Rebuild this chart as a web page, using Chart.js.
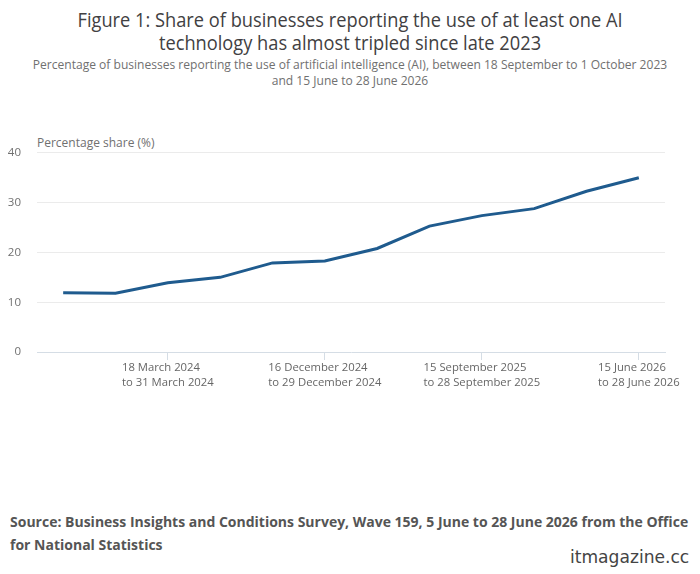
<!DOCTYPE html>
<html>
<head>
<meta charset="utf-8">
<script src="https://cdn.jsdelivr.net/npm/chart.js@4/dist/chart.umd.min.js"></script>
<style>
  html, body { margin: 0; padding: 0; background: #fff; }
  body { width: 700px; height: 574px; position: relative; overflow: hidden; font-family: "Open Sans", sans-serif; }
  #title { position: absolute; top: 8px; left: 0; width: 700px; text-align: center; font-size: 20.5px; line-height: 23px; color: #414042; transform: scaleX(0.89); transform-origin: 350px 0; }
  #subtitle { position: absolute; top: 57px; left: 0; width: 700px; text-align: center; font-size: 12.3px; line-height: 16px; color: #707070; transform: scaleX(0.98); transform-origin: 350px 0; }
  #ytitle { position: absolute; top: 134px; left: 37px; font-size: 12px; color: #707070; }
  #wrap { position: absolute; top: 130px; left: 0; width: 700px; height: 270px; }
  #source { position: absolute; top: 510px; left: 10px; width: 690px; font-size: 14px; line-height: 23px; font-weight: bold; color: #555; }
  #wm { position: absolute; top: 546px; left: 570px; font-family: "DejaVu Sans", sans-serif; font-size: 18px; color: #444; transform: scaleX(0.95); transform-origin: 0 0; white-space: nowrap; }
</style>
</head>
<body>
<div id="title">Figure 1: Share of businesses reporting the use of at least one AI<br>technology has almost tripled since late 2023</div>
<div id="subtitle">Percentage of businesses reporting the use of artificial intelligence (AI), between 18 September to 1 October 2023<br>and 15 June to 28 June 2026</div>
<div id="ytitle">Percentage share (%)</div>
<div id="wrap"><canvas id="c"></canvas></div>
<div id="source">Source: Business Insights and Conditions Survey, Wave 159, 5 June to 28 June 2026 from the Office<br>for National Statistics</div>
<div id="wm">itmagazine.cc</div>
<script>
// Survey periods (start line, end line)
const periodStarts = ["18 September 2023", "11 December 2023", "18 March 2024", "17 June 2024", "16 September 2024", "16 December 2024", "17 March 2025", "16 June 2025", "15 September 2025", "15 December 2025", "16 March 2026", "15 June 2026"];
const periodEnds = ["to 1 October 2023", "to 24 December 2023", "to 31 March 2024", "to 30 June 2024", "to 29 September 2024", "to 29 December 2024", "to 30 March 2025", "to 29 June 2025", "to 28 September 2025", "to 28 December 2025", "to 29 March 2026", "to 28 June 2026"];
const shownLabelIndex = [2, 5, 8, 11];
const aiShare = [11.9, 11.8, 13.9, 15.0, 17.9, 18.3, 20.8, 25.3, 27.4, 28.8, 32.3, 35.0];
const yTicks = [0, 10, 20, 30, 40];

const categories = periodStarts.map((s, i) => [s, periodEnds[i]]);

const axisColor = '#d5dde5';
const labelPlugin = {
  id: 'leftAlignedXLabels',
  afterDraw(chart) {
    const sc = chart.scales.x;
    const ctx = chart.ctx;
    ctx.save();
    ctx.font = '11.3px "Open Sans"';
    ctx.fillStyle = '#666';
    ctx.textAlign = 'left';
    ctx.textBaseline = 'middle';
    shownLabelIndex.forEach(i => {
      const lines = categories[i];
      const w = Math.max(...lines.map(l => ctx.measureText(l).width));
      const x = sc.getPixelForValue(i) - w / 2;
      const y0 = sc.top + 16;
      lines.forEach((l, k) => ctx.fillText(l, x, y0 + k * 15));
    });
    ctx.restore();
  }
};

new Chart(document.getElementById('c'), {
  type: 'line',
  data: {
    labels: categories,
    datasets: [{
      data: aiShare,
      borderColor: '#1f5b8e',
      borderWidth: 3,
      pointRadius: 0,
      pointHoverRadius: 0,
      tension: 0,
      fill: false
    }]
  },
  options: {
    responsive: true,
    maintainAspectRatio: false,
    animation: false,
    layout: { padding: { top: 20, right: 35, left: 0, bottom: 0 } },
    plugins: { legend: { display: false }, tooltip: { enabled: false } },
    scales: {
      x: {
        offset: true,
        grid: {
          offset: false,
          drawOnChartArea: false,
          drawTicks: true,
          tickLength: 8,
          color: (c) => shownLabelIndex.includes(c.index) ? axisColor : 'rgba(0,0,0,0)'
        },
        border: { display: true, color: axisColor, width: 1 },
        ticks: {
          autoSkip: false,
          maxRotation: 0,
          minRotation: 0,
          color: 'rgba(0,0,0,0)',
          callback: () => ''
        },
        afterFit: (s) => { s.height = 48; }
      },
      y: {
        min: 0,
        max: 40,
        afterBuildTicks: (s) => { s.ticks = yTicks.map(v => ({ value: v })); },
        grid: {
          drawTicks: false,
          color: (c) => c.tick && c.tick.value === 0 ? 'rgba(0,0,0,0)' : '#ebebeb',
          lineWidth: 1
        },
        border: { display: false },
        ticks: {
          padding: 16,
          color: '#707070',
          font: { family: 'Open Sans', size: 11.5 }
        },
        afterFit: (s) => { s.width = 37; }
      }
    }
  },
  plugins: [labelPlugin]
});
</script>
</body>
</html>
